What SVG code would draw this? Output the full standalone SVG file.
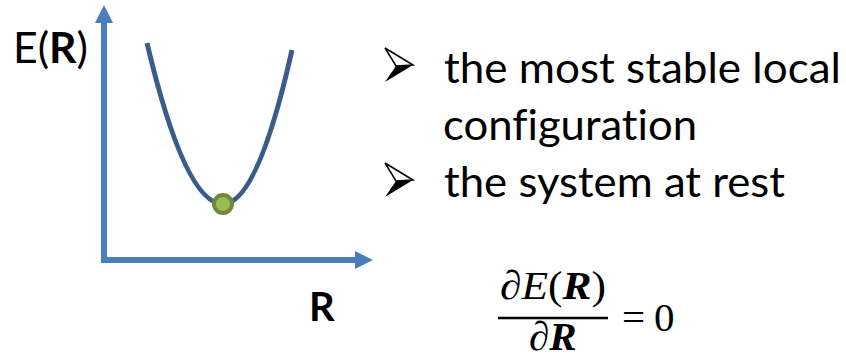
<svg xmlns="http://www.w3.org/2000/svg" width="846" height="359" viewBox="0 0 846 359">
<style>
.lbl{font-family:Lato,"Liberation Sans",sans-serif;fill:#000}
.bul{font-family:Lato,"Liberation Sans",sans-serif;font-size:43px;fill:#000;font-variant-ligatures:none}
.math{font-family:"Liberation Serif","DejaVu Serif",serif;font-size:41px;fill:#000}
.axis{fill:none;stroke:#4A7EBB;stroke-width:6;stroke-linejoin:miter}
</style>
<defs>
<marker id="ah" markerUnits="userSpaceOnUse" markerWidth="18" markerHeight="18" refX="0" refY="9" orient="auto">
<path d="M0,0 L18,9 L0,18 z" fill="#4A7EBB"/>
</marker>
<g id="bulletshape">
<path d="M0,0 L28,17 L11,18 z" fill="#fff" stroke="#000" stroke-width="1.5" stroke-linejoin="miter"/>
<path d="M11,18 L28,17 L0,34 z" fill="#000"/>
</g>
</defs>
<g id="axes">
<path class="axis" d="M104,23 V260 H355" marker-end="url(#ah)"/>
<path class="axis" d="M104,200 V23" marker-end="url(#ah)"/>
</g>
<g id="curve">
<path d="M147,43 Q185,204 223,204 Q257.5,204 292,50" fill="none" stroke="#385D8A" stroke-width="5"/>
</g>
<g id="minimum">
<circle cx="223" cy="204" r="9" fill="#9BBB59" stroke="#71893F" stroke-width="4"/>
</g>
<g id="ylabel">
<text class="lbl" x="13" y="63" font-size="42" textLength="75" lengthAdjust="spacingAndGlyphs">E(<tspan font-weight="bold">R</tspan>)</text>
</g>
<g id="xlabel">
<text class="lbl" x="309" y="321" font-size="40" font-weight="bold">R</text>
</g>
<g id="bullets">
<use href="#bulletshape" x="385" y="48"/>
<text class="bul" x="444" y="83" textLength="397" lengthAdjust="spacingAndGlyphs">the most stable local</text>
<text class="bul" x="443" y="140" textLength="254" lengthAdjust="spacingAndGlyphs">configuration</text>
<use href="#bulletshape" x="385" y="163"/>
<text class="bul" x="444" y="197" textLength="341" lengthAdjust="spacingAndGlyphs">the system at rest</text>
</g>
<g id="formula">
<text class="math" x="500" y="299" textLength="106" lengthAdjust="spacingAndGlyphs"><tspan font-style="italic">∂E</tspan>(<tspan font-style="italic" font-weight="bold">R</tspan>)</text>
<line x1="498" y1="318" x2="608" y2="318" stroke="#000" stroke-width="2.5"/>
<text class="math" x="529" y="350"><tspan font-style="italic">∂</tspan><tspan font-style="italic" font-weight="bold">R</tspan></text>
<text class="math" x="622" y="331">=</text>
<text class="math" x="654" y="331">0</text>
</g>
</svg>
